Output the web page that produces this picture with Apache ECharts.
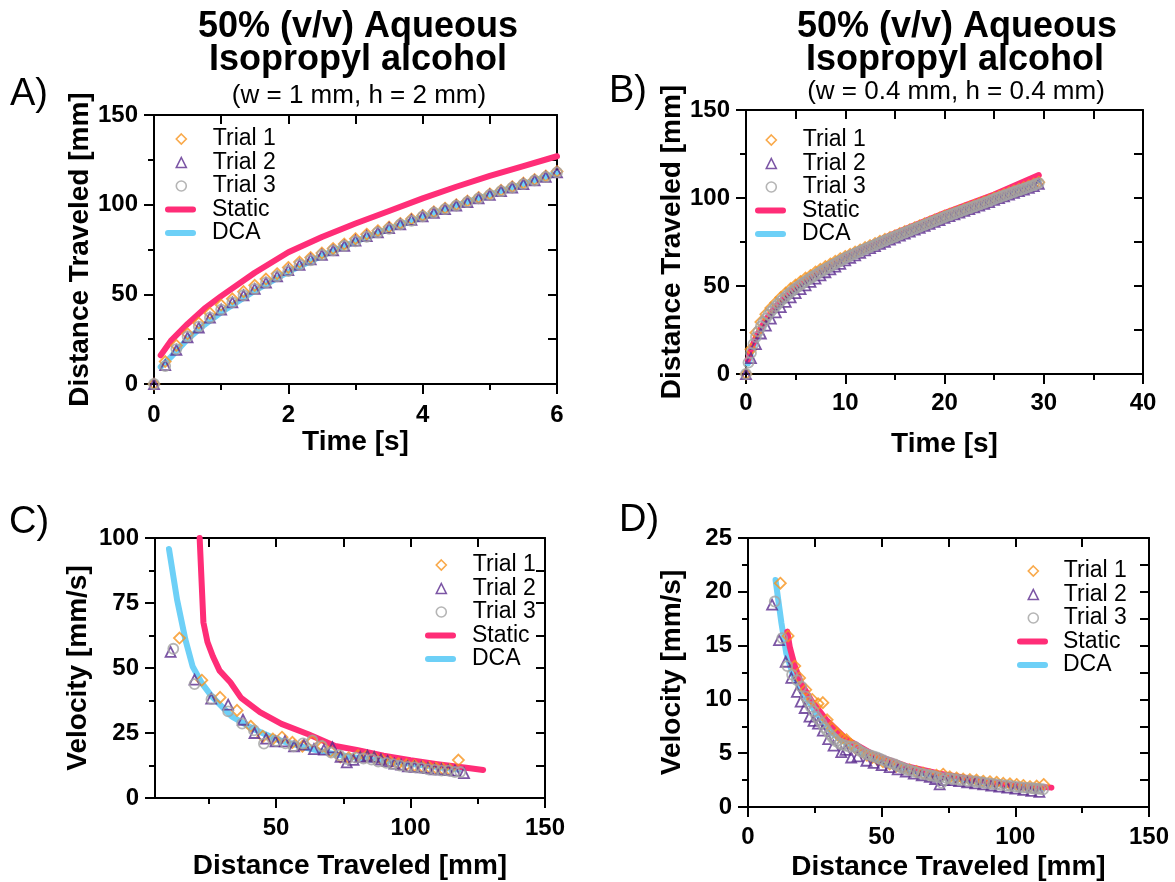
<!DOCTYPE html>
<html><head><meta charset="utf-8">
<script src="https://cdn.jsdelivr.net/npm/echarts@6/dist/echarts.min.js"></script>
<style>html,body{margin:0;padding:0;background:#fff}#c{width:1175px;height:882px}</style>
</head><body><div id="c"></div>
<script>
const FONT = '"Liberation Sans", Arial, Helvetica, sans-serif';
const C_T1 = '#F7941D', C_T2 = '#5B2C8F', C_T3 = '#A3A3A3', C_ST = '#FF2D77', C_DCA = '#6DD0F7';

// ---------- Panel A: distance vs time (w = 1 mm, h = 2 mm) ----------
const tA = [0,0.167,0.333,0.5,0.667,0.833,1,1.167,1.333,1.5,1.667,1.833,2,2.167,2.333,2.5,2.667,2.833,3,3.167,3.333,3.5,3.667,3.833,4,4.167,4.333,4.5,4.667,4.833,5,5.167,5.333,5.5,5.667,5.833,6];
const A_trial1 = [0,12.5,21.5,28,34,39.5,44,47.5,51.5,55,58.5,61.5,65,68,70.5,73,75.5,78,81,83.5,85.5,87.5,89.5,92,94,96,98,100,102,104,106,108,110,112,114,116,118.5];
const A_trial2 = [0,10.5,19,26,31.5,37,41.5,45.5,49.5,53,56.5,60,63.5,66.5,69.5,72,74.5,77,80,82.5,84.5,87,89,91.5,93.5,95.5,97.5,99.5,101.5,103.5,105.5,107.5,109.5,111.5,113.5,115.5,118];
const A_trial3 = [0,10,19.5,26.5,32,37,41.5,45.5,49.5,53,56.5,60,63,66.5,69,72,74.5,77,79.5,82,84.5,86.5,89,91,93.5,95.5,97.5,99.5,101.5,103.5,105.5,107.5,109.5,111.5,113.5,115.5,118];
const tA_model = [0.1,0.25,0.5,0.75,1,1.5,2,2.5,3,3.5,4,4.5,5,5.5,6];
const A_static = [16,24,33.5,42,49,62,73.5,82,89.5,96.5,103.5,110,116,121.5,127];
const A_dca = [9.5,15,25,33,40,52,62.5,71.5,79.5,86.5,93,99.5,105.5,111.5,117.5];

// ---------- Panel B: distance vs time (w = 0.4 mm, h = 0.4 mm) ----------
const tB = [0,0.5,1,1.5,2,2.5,3,3.5,4,4.5,5,5.5,6,6.5,7,7.5,8,8.5,9,9.5,10,10.5,11,11.5,12,12.5,13,13.5,14,14.5,15,15.5,16,16.5,17,17.5,18,18.5,19,19.5,20,20.5,21,21.5,22,22.5,23,23.5,24,24.5,25,25.5,26,26.5,27,27.5,28,28.5,29,29.5];
const B_trial1 = [0,14,23.5,29.5,34,37.5,40.5,43.5,46,48.5,50.5,52.5,54.5,56,58,59.5,61,62.5,64,65.5,66.8,68,69.3,70.5,71.8,73,74.2,75.4,76.5,77.6,78.6,79.8,80.9,82,83.1,84.2,85.3,86.4,87.5,88.6,89.8,90.8,91.8,92.8,93.8,94.8,95.8,96.8,97.8,98.8,100,101,102,103,104,105,105.9,106.9,107.9,109];
const B_trial2 = [0,9,17,23,27.5,31.5,35,38,41,43.5,46,48.2,50.3,52.3,54.2,56,57.8,59.5,61,62.6,64.6,66,67.4,68.8,70.2,71.5,72.7,73.9,75.1,76.3,77.5,78.7,79.8,80.9,82,83.1,84.2,85.3,86.4,87.5,88.7,89.7,90.7,91.7,92.7,93.7,94.7,95.7,96.7,97.7,98.9,99.9,100.9,101.9,102.9,103.9,104.8,105.8,106.8,108];
const tB3 = [0,0.25,0.5,0.75,1,1.25,1.5,1.75,2,2.25,2.5,2.75,3,3.25,3.5,3.75,4,4.25,4.5,4.75,5,5.25,5.5,5.75,6,6.25,6.5,6.75,7,7.25,7.5,7.75,8,8.25,8.5,8.75,9,9.25,9.5,9.75,10,10.25,10.5,10.75,11,11.25,11.5,11.75,12,12.25,12.5,12.75,13,13.25,13.5,13.75,14,14.25,14.5,14.75,15,15.25,15.5,15.75,16,16.25,16.5,16.75,17,17.25,17.5,17.75,18,18.25,18.5,18.75,19,19.25,19.5,19.75,20,20.25,20.5,20.75,21,21.25,21.5,21.75,22,22.25,22.5,22.75,23,23.25,23.5,23.75,24,24.25,24.5,24.75,25,25.25,25.5,25.75,26,26.25,26.5,26.75,27,27.25,27.5,27.75,28,28.25,28.5,28.75,29,29.25,29.5];
const B_trial3 = [0,6.5,12,17,21,24.2,27,29.4,31.5,33.6,35.5,37,38.5,40,41.5,42.8,44,45.3,46.5,47.6,48.7,49.7,50.7,51.7,52.6,53.6,54.5,55.4,56.3,57.2,58,58.8,59.6,60.4,61.2,62,62.7,63.5,64.2,65,65.8,66.5,67.1,67.8,68.4,69.1,69.7,70.4,71,71.6,72.2,72.8,73.4,74,74.6,75.2,75.8,76.4,76.9,77.5,78,78.6,79.2,79.8,80.3,80.9,81.4,82,82.5,83.1,83.6,84.2,84.7,85.3,85.8,86.4,86.9,87.5,88,88.6,89.2,89.7,90.2,90.7,91.2,91.7,92.2,92.7,93.2,93.7,94.2,94.7,95.2,95.7,96.2,96.7,97.2,97.7,98.2,98.8,99.4,99.9,100.4,100.9,101.4,101.9,102.4,102.9,103.4,103.9,104.4,104.8,105.3,105.8,106.3,106.8,107.3,107.9,108.5];
const tB_model = [0.2,0.5,1,2,3,5,7.5,10,15,20,25,29.5];
const B_static = [8,14,21,31,38.5,50,59,67.5,80,91.5,102,113];
const B_dca = [6,12,19.5,30,37.5,49,58.5,66.5,79,90.5,100.5,110];

// ---------- Panel C: velocity vs distance (w = 1 mm, h = 2 mm) ----------
const C_trial1 = [[14.1,61.5],[22.4,45.3],[29.2,38.7],[35.5,33.7],[40.6,27.6],[45.1,23.7],[48.8,22.7],[52.2,23.4],[56.1,21.4],[59.8,19.9],[63.5,21.8],[67.2,19.9],[70.2,17.9],[73.9,15.8],[77,15.5],[80.5,16.3],[83.5,16],[86.5,15.5],[89.5,14.5],[92.5,13.8],[95.5,13.2],[98.5,12.8],[101.5,12.5],[104.5,12],[107,11.8],[109.5,11.5],[112,11.2],[114.5,11],[117.8,14.6]];
const C_trial2 = [[10.8,56.2],[19.7,45.5],[25.9,38.2],[32.2,35.9],[37.7,30.1],[42,25],[46.3,22.8],[49.8,21.8],[53.3,21.8],[56.7,19.9],[60.4,20.5],[64.1,18.8],[67.8,18.6],[71,19.5],[74,15.8],[76.3,13.7],[78.8,14.7],[81.3,15.8],[84,16.2],[86.5,15.8],[89,14.8],[91.5,14.2],[94,13.2],[96.5,12.8],[99,12.2],[101.5,12],[104,11.8],[106.5,11.5],[109,11],[111.5,11],[114,10.7],[116.5,10.5],[119.9,9.6]];
const C_trial3 = [[11.8,57.4],[19.7,43.8],[26,38],[32.2,33.3],[37.4,28.6],[41.8,26],[45.5,20.9],[50,22],[53.5,21],[56.5,19.9],[60,21],[63.5,22.2],[67,20],[70.5,17.5],[73.5,16.5],[76.5,15],[79.5,15.5],[82.5,15.2],[85.5,14.8],[88,14],[91,13.5],[93.5,13],[96,12.5],[99,12],[101.5,11.8],[104,11.5],[106.5,11],[109,10.8],[111.5,10.5],[114,10.5],[116.5,10],[118.5,10]];
const C_static = [[21.6,100],[23,67.5],[24.5,60],[26.5,54.5],[29,49],[33,44.5],[37,38.5],[44,33],[52,28.5],[62,24.5],[72,20],[80,18.5],[90,16.3],[100,14.5],[110,13],[120,11.7],[127,10.8]];
const C_dca = [[10.2,95.8],[13.2,76.3],[16.3,60.9],[19,50.6],[22.4,44.2],[26.1,39.1],[33.5,31.4],[42,26.3],[50.6,22.4],[61.6,19.2],[72.7,16.7],[80,15.5],[91,14.1],[103.3,12.8],[112,11.6],[118,11]];

// ---------- Panel D: velocity vs distance (w = 0.4 mm, h = 0.4 mm) ----------
const D_trial1 = [[12.1,20.8],[15,15.9],[17.5,13.1],[19.3,12],[21.6,10.9],[24,10],[26.2,9.6],[28,9.7],[29.6,8.1],[31.5,7.3],[33.5,6.8],[35,6.4],[36.8,6.25],[38.5,5.8],[40.5,5.4],[42.5,5.1],[44.5,4.8],[46.5,4.6],[48.5,4.4],[50.5,4.2],[53,4],[55.5,3.8],[58,3.6],[60.5,3.45],[63,3.3],[65.5,3.15],[68,3],[70.5,2.95],[73,3.05],[75.5,2.8],[78,2.7],[80.5,2.6],[83,2.55],[85.5,2.5],[88,2.4],[90.5,2.35],[93,2.3],[95.5,2.2],[98,2.15],[100.5,2.1],[103,2.0],[105.5,1.9],[108,1.95],[110.6,2.1]];
const D_trial2 = [[9,18.8],[11.6,15.5],[14.1,13.5],[16.2,12],[18.3,10.7],[19.7,9.8],[21.2,9.2],[23,8.4],[24.5,8],[26.2,7.75],[28,7.1],[30,6.3],[32,5.7],[34.9,5.1],[36.5,5.3],[38.6,4.6],[41,4.7],[44.3,4.3],[47,4.1],[50,3.9],[53,3.7],[56,3.5],[59,3.3],[62,3.1],[65,2.95],[68,2.8],[70,2.6],[71.7,2.1],[73.5,2.5],[76,2.5],[79,2.4],[82,2.3],[85,2.2],[88,2.1],[91,2.0],[94,1.9],[97,1.8],[100,1.7],[103,1.6],[106,1.5],[109,1.4]];
const D_trial3 = [[10,19.1],[12.8,15.7],[14.7,13.1],[16.5,12.3],[18.3,11.8],[19.9,11.2],[21.6,10.25],[22.5,9.8],[23.5,9.3],[24.5,8.9],[25.6,8.4],[26.5,8.1],[27.5,7.8],[28.5,7.4],[29.5,7.1],[30.5,6.8],[31.5,6.5],[32.3,6.3],[33,6.1],[34.3,5.9],[35.4,5.8],[36.5,5.7],[38,5.6],[39.9,5.6],[41,5.4],[42,5.2],[43.2,5.05],[44.5,4.9],[45.8,4.8],[47,4.7],[48.2,4.6],[49.3,4.5],[50.6,4.35],[52,4.2],[53.5,4.08],[55,3.95],[56,3.82],[57,3.7],[58.1,3.6],[59.2,3.5],[60.6,3.4],[62,3.3],[63.5,3.2],[65,3.1],[66.5,3.02],[68,2.95],[69,2.9],[70,2.85],[71.7,2.75],[72.5,2.25],[73.2,2.5],[74,2.7],[75.5,2.65],[77,2.6],[78.5,2.55],[80,2.5],[82,2.45],[84,2.4],[85.5,2.35],[87,2.3],[88.5,2.25],[90,2.2],[91.5,2.15],[93,2.1],[94.8,2.05],[96.6,2.0],[98.3,1.95],[100,1.9],[101.5,1.85],[103,1.8],[104.5,1.78],[106,1.75],[107,1.72],[108,1.7],[109.2,1.68],[110.4,1.65]];
const D_static = [[14.7,16.3],[15.6,14.9],[17.5,13.1],[19.9,11.5],[23.7,9.9],[29.3,8.1],[36.8,6.3],[46.8,4.9],[59.2,3.8],[71.7,3.1],[84.2,2.6],[96.6,2.1],[113.5,1.8]];
const D_dca = [[10.3,21.1],[12.5,17.1],[14.3,14.3],[16.8,12.3],[20.6,10.6],[25.6,8.7],[31.8,6.8],[40.5,5.25],[53,4],[65.5,3.1],[78,2.6],[90.4,2.2],[102.9,1.9],[110.4,1.75]];

// ---------- Axis tick / label definitions ----------
const axA_x = {min:0,max:6,major:[0,2,4,6],minor:[1,3,5],name:'Time [s]',gap:43,margin:19};
const axA_y = {min:0,max:150,major:[0,50,100,150],minor:[25,75,125],name:'Distance Traveled [mm]',gap:60,margin:16};
const axB_x = {min:0,max:40,major:[0,10,20,30,40],minor:[5,15,25,35],name:'Time [s]',gap:56,margin:17};
const axB_y = {min:0,max:150,major:[0,50,100,150],minor:[25,75,125],name:'Distance Traveled [mm]',gap:60,margin:16};
const axC_x = {min:5,max:150,major:[50,100,150],minor:[25,75,125],name:'Distance Traveled [mm]',gap:54,margin:18};
const axC_y = {min:0,max:100,major:[0,25,50,75,100],minor:[12.5,37.5,62.5,87.5],name:'Velocity [mm/s]',gap:63,margin:16};
const axD_x = {min:0,max:150,major:[0,50,100,150],minor:[25,75,125],name:'Distance Traveled [mm]',gap:46,margin:18};
const axD_y = {min:0,max:25,major:[0,5,10,15,20,25],minor:[2.5,7.5,12.5,17.5,22.5],name:'Velocity [mm/s]',gap:62,margin:16};

const grids = [
  {left:154, top:115, width:403, height:269},
  {left:746, top:110, width:397, height:264},
  {left:155, top:538, width:390, height:260},
  {left:748, top:538, width:401, height:269}
];

const xAxes = [], yAxes = [];
const LINE = {color:'#000', width:2};
function mkAxes(g, ax, isX) {
  const arr = isX ? xAxes : yAxes;
  const idx = arr.length;
  const base = (pos, extra) => Object.assign({
    gridIndex:g, type:'value', min:ax.min, max:ax.max, position:pos,
    splitLine:{show:false}, axisLine:{show:false, onZero:false},
    axisLabel:{show:false}, axisTick:{show:false}, axisPointer:{show:false}, silent:true
  }, extra);
  const mainPos = isX ? 'bottom' : 'left';
  const mirPos = isX ? 'top' : 'right';
  arr.push(base(mainPos, {
    axisLine:{show:true, onZero:false, lineStyle:LINE},
    axisTick:{show:true, customValues:ax.major, length:10, lineStyle:LINE},
    axisLabel:{show:true, customValues:ax.major, margin:ax.margin, color:'#000', fontFamily:FONT, fontWeight:'bold', fontSize:24},
    name:ax.name, nameLocation:'middle', nameGap:ax.gap,
    nameTextStyle:{color:'#000', fontFamily:FONT, fontWeight:'bold', fontSize:28}
  }));
  arr.push(base(mainPos, {axisTick:{show:true, customValues:ax.minor, length:6, lineStyle:LINE}}));
  arr.push(base(mirPos, {
    axisLine:{show:true, onZero:false, lineStyle:LINE},
    axisTick:{show:true, inside:true, customValues:ax.major.concat(ax.minor), length:9, lineStyle:LINE}
  }));
  return idx;
}
const panels = [[axA_x,axA_y],[axB_x,axB_y],[axC_x,axC_y],[axD_x,axD_y]].map((p,g) => ({x:mkAxes(g,p[0],true), y:mkAxes(g,p[1],false)}));

function pairs(xs, ys) { const n = Math.min(xs.length, ys.length); const out = []; for (let i=0;i<n;i++) out.push([xs[i], ys[i]]); return out; }
function lineS(p, name, data, color) {
  return {type:'line', name, xAxisIndex:panels[p].x, yAxisIndex:panels[p].y, data, symbol:'none', smooth:false,
    lineStyle:{color, width:6, cap:'round', join:'round'}, itemStyle:{color}, silent:true, clip:true, z:2};
}
function scat(p, name, data, symbol, color) {
  return {type:'scatter', name, xAxisIndex:panels[p].x, yAxisIndex:panels[p].y, data, symbol, symbolSize: symbol==='diamond'?11:10,
    itemStyle:{color:'rgba(255,255,255,0)', borderColor:color, borderWidth:1.8}, silent:true, clip:false, z:3};
}
const series = [];
const sets = [
  {dca:pairs(tA_model,A_dca), st:pairs(tA_model,A_static), t1:pairs(tA,A_trial1), t2:pairs(tA,A_trial2), t3:pairs(tA,A_trial3)},
  {dca:pairs(tB_model,B_dca), st:pairs(tB_model,B_static), t1:pairs(tB,B_trial1), t2:pairs(tB,B_trial2), t3:pairs(tB3,B_trial3)},
  {dca:C_dca, st:C_static, t1:C_trial1, t2:C_trial2, t3:C_trial3},
  {dca:D_dca, st:D_static, t1:D_trial1, t2:D_trial2, t3:D_trial3}
];
sets.forEach((s,p) => {
  series.push(lineS(p,'DCA',s.dca,C_DCA));
  series.push(lineS(p,'Static',s.st,C_ST));
  series.push(scat(p,'Trial 1',s.t1,'diamond',C_T1));
  series.push(scat(p,'Trial 2',s.t2,'triangle',C_T2));
  series.push(scat(p,'Trial 3',s.t3,'circle',C_T3));
});

const LINE_ICON = 'path://M3,0 L28,0 A3,3 0 0 1 28,6 L3,6 A3,3 0 0 1 3,0 Z';
const ROW = 23.5;
function legends(iconLeft, firstCenter, textX) {
  const common = {orient:'vertical', itemGap:ROW-23, selectedMode:false, padding:0, symbolKeepAspect:true};
  const tsBase = {color:'#000', fontFamily:FONT, fontSize:23, lineHeight:23};
  const trialLeft = iconLeft + 10.5;
  return [
    Object.assign({}, common, {
      left:trialLeft, top:firstCenter-11.5, itemWidth:10, itemHeight:10,
      textStyle:Object.assign({}, tsBase, {padding:[0,0,0,textX-trialLeft-15]}),
      data:[
        {name:'Trial 1', icon:'diamond', itemStyle:{color:'rgba(255,255,255,0)', borderColor:C_T1, borderWidth:1.6}},
        {name:'Trial 2', icon:'triangle', itemStyle:{color:'rgba(255,255,255,0)', borderColor:C_T2, borderWidth:1.6}},
        {name:'Trial 3', icon:'circle', itemStyle:{color:'rgba(255,255,255,0)', borderColor:C_T3, borderWidth:1.6}}
      ]
    }),
    Object.assign({}, common, {
      left:iconLeft, top:firstCenter+3*ROW-11.5, itemWidth:31, itemHeight:10,
      textStyle:Object.assign({}, tsBase, {padding:[0,0,0,textX-iconLeft-36]}),
      data:[
        {name:'Static', icon:LINE_ICON, itemStyle:{color:C_ST, borderWidth:0}},
        {name:'DCA', icon:LINE_ICON, itemStyle:{color:C_DCA, borderWidth:0}}
      ]
    })
  ];
}

function txt(x, y, text, font) {
  return {type:'text', x, y, silent:true, style:{text, font, fill:'#000', align:'center', verticalAlign:'middle', textAlign:'center', textVerticalAlign:'middle'}};
}
const TBOLD = 'bold 36px ' + FONT, TSUB = '26px ' + FONT, TPAN = '38px ' + FONT;

const chart = echarts.init(document.getElementById('c'), null, {renderer:'canvas'});
chart.setOption({
  animation:false,
  backgroundColor:'#fff',
  grid:grids,
  xAxis:xAxes,
  yAxis:yAxes,
  legend:[].concat(legends(165,139,212), legends(755,140,802), legends(425,565,472), legends(1017,571,1063)),
  series,
  graphic:[
    txt(358,27,'50% (v/v) Aqueous',TBOLD), txt(358,60,'Isopropyl alcohol',TBOLD), txt(359,96,'(w = 1 mm, h = 2 mm)',TSUB),
    txt(957,27,'50% (v/v) Aqueous',TBOLD), txt(955,60,'Isopropyl alcohol',TBOLD), txt(956,92,'(w = 0.4 mm, h = 0.4 mm)',TSUB),
    txt(29,95,'A)',TPAN), txt(628,92,'B)',TPAN), txt(29,523,'C)',TPAN), txt(639,521,'D)',TPAN)
  ]
});
</script></body></html>
